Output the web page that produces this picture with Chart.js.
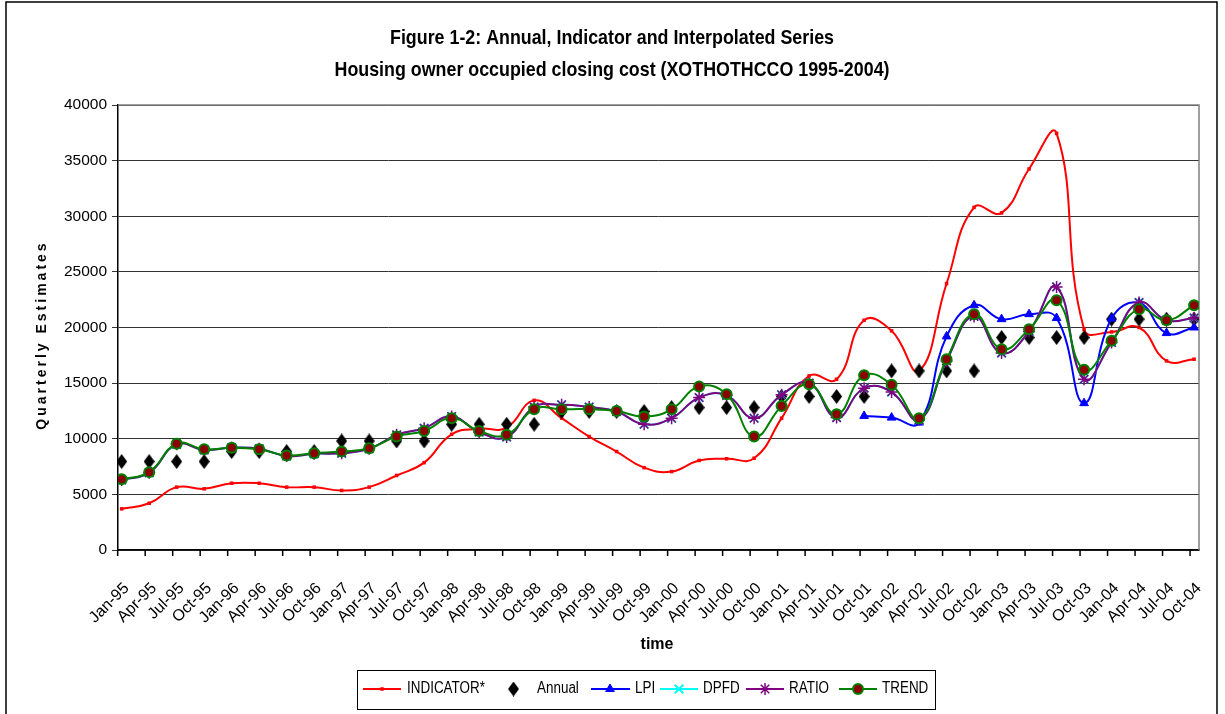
<!DOCTYPE html>
<html>
<head>
<meta charset="utf-8">
<script src="https://cdn.jsdelivr.net/npm/chart.js@4.4.0/dist/chart.umd.min.js"></script>
<style>
  html, body { margin: 0; padding: 0; background: #fff; }
  #wrap { position: relative; width: 1225px; height: 714px; }
</style>
</head>
<body>
<div id="wrap"><canvas id="grafico"></canvas></div>
<script>
const trimestres = [
  "Jan-95", "Apr-95", "Jul-95", "Oct-95", "Jan-96", "Apr-96", "Jul-96", "Oct-96",
  "Jan-97", "Apr-97", "Jul-97", "Oct-97", "Jan-98", "Apr-98", "Jul-98", "Oct-98",
  "Jan-99", "Apr-99", "Jul-99", "Oct-99", "Jan-00", "Apr-00", "Jul-00", "Oct-00",
  "Jan-01", "Apr-01", "Jul-01", "Oct-01", "Jan-02", "Apr-02", "Jul-02", "Oct-02",
  "Jan-03", "Apr-03", "Jul-03", "Oct-03", "Jan-04", "Apr-04", "Jul-04", "Oct-04",
];

const indicator = [
  3700, 4200, 5650, 5500, 6000, 6000, 5650, 5650,
  5350, 5650, 6700, 7850, 10400, 10900, 11000, 13450,
  11850, 10200, 8850, 7400, 7050, 8050, 8200, 8250,
  11850, 15650, 15350, 20650, 19700, 16100, 23950, 30800,
  30300, 34250, 37450, 19850, 19600, 20000, 17000, 17150,
];

const annual = [
  7950, 7950, 7950, 7950, 8850, 8850, 8850, 8850,
  9800, 9800, 9800, 9800, 11300, 11300, 11300, 11300,
  12450, 12450, 12450, 12450, 12800, 12800, 12800, 12800,
  13800, 13800, 13800, 13800, 16100, 16100, 16100, 16100,
  19100, 19100, 19100, 19100, 20750, 20750, 20750, 20750,
];

const lpi = [
  null, null, null, null, null, null, null, null,
  null, null, null, null, null, null, null, null,
  null, null, null, null, null, null, null, null,
  null, null, null, 12050, 11900, 11450, 19200, 22000,
  20750, 21200, 20850, 13200, 20800, 22200, 19500, 20000,
];

const dpfd = [
  6300, 6950, 9500, 9000, 9200, 9100, 8450, 8650,
  8700, 9100, 10350, 10950, 12000, 10600, 10150, 12850,
  13050, 12850, 12450, 11300, 11850, 13700, 13900, 11850,
  13950, 15000, 11900, 14550, 14200, 11700, 17000, 21000,
  17700, 19650, 23650, 15350, 18650, 22250, 20650, 20850,
];

const ratio = [
  6300, 6950, 9500, 9000, 9200, 9100, 8450, 8650,
  8700, 9100, 10350, 10950, 12000, 10600, 10150, 12850,
  13050, 12850, 12450, 11300, 11850, 13700, 13900, 11850,
  13950, 15000, 11900, 14550, 14200, 11700, 17000, 21000,
  17700, 19650, 23650, 15350, 18650, 22250, 20650, 20850,
];

const trend = [
  6350, 7000, 9550, 9050, 9200, 9050, 8500, 8700,
  8850, 9150, 10200, 10700, 11850, 10700, 10350, 12650,
  12650, 12650, 12500, 12000, 12650, 14700, 14000, 10200,
  12950, 14900, 12200, 15700, 14850, 11850, 17150, 21200,
  18050, 19850, 22450, 16200, 18800, 21650, 20650, 22000,
];

const fonte = '"Liberation Sans", Arial, sans-serif';

// losango preto (mais alto que largo) usado na serie anual
const losango = document.createElement("canvas");
losango.width = 11;
losango.height = 15;
{
  const c = losango.getContext("2d");
  c.fillStyle = "#000";
  c.beginPath();
  c.moveTo(5.5, 0);
  c.lineTo(11, 7.5);
  c.lineTo(5.5, 15);
  c.lineTo(0, 7.5);
  c.closePath();
  c.fill();
}

function texto(ctx, str, x, y, font, escalaX, align) {
  ctx.save();
  ctx.translate(x, y);
  ctx.scale(escalaX, 1);
  ctx.font = font;
  ctx.fillStyle = "#000";
  ctx.textAlign = align || "center";
  ctx.textBaseline = "middle";
  ctx.fillText(str, 0, 0);
  ctx.restore();
}

function marcador(ctx, estilo, raio, fundo, borda, largura, x, y) {
  ctx.save();
  ctx.fillStyle = fundo;
  ctx.strokeStyle = borda;
  ctx.lineWidth = largura;
  Chart.helpers.drawPoint(ctx, { pointStyle: estilo, radius: raio, rotation: 0, borderWidth: largura }, x, y);
  ctx.restore();
}

function linhaLegenda(ctx, cor, x1, x2, y) {
  ctx.save();
  ctx.strokeStyle = cor;
  ctx.lineWidth = 2;
  ctx.beginPath();
  ctx.moveTo(x1, y);
  ctx.lineTo(x2, y);
  ctx.stroke();
  ctx.restore();
}

const moldura = {
  id: "moldura",
  beforeDatasetsDraw(chart) {
    const { ctx, chartArea } = chart;
    ctx.save();
    ctx.strokeStyle = "#808080";
    ctx.lineWidth = 1.5;
    ctx.beginPath();
    ctx.moveTo(chartArea.left, chartArea.top);
    ctx.lineTo(chartArea.right, chartArea.top);
    ctx.lineTo(chartArea.right, chartArea.bottom);
    ctx.stroke();

    // marcas e rotulos do eixo x (um pouco a esquerda de cada ponto, como no original)
    const sx = chart.scales.x;
    ctx.strokeStyle = "#000";
    ctx.lineWidth = 1.5;
    ctx.font = "16px " + fonte;
    ctx.fillStyle = "#000";
    ctx.textAlign = "right";
    ctx.textBaseline = "alphabetic";
    trimestres.forEach((rot, i) => {
      const xt = sx.getPixelForValue(i) - 4;
      ctx.beginPath();
      ctx.moveTo(xt, chartArea.bottom);
      ctx.lineTo(xt, chartArea.bottom + 6);
      ctx.stroke();
      ctx.save();
      ctx.translate(xt + 12, chartArea.bottom + 39);
      ctx.rotate(-Math.PI / 4);
      ctx.fillText(rot, 0, 0);
      ctx.restore();
    });
    ctx.restore();
  },
  afterDraw(chart) {
    const ctx = chart.ctx;
    ctx.save();
    ctx.strokeStyle = "#000";
    ctx.lineWidth = 1.5;
    ctx.strokeRect(6, 2, 1211, 730);
    ctx.restore();

    texto(ctx, "Figure 1-2: Annual, Indicator and Interpolated Series", 612, 38, "bold 20.5px " + fonte, 0.87);
    texto(ctx, "Housing owner occupied closing cost (XOTHOTHCCO 1995-2004)", 612, 70, "bold 20.5px " + fonte, 0.87);

    // titulo do eixo y com espacamento entre letras
    ctx.save();
    ctx.translate(42, 335);
    ctx.rotate(-Math.PI / 2);
    ctx.font = "bold 14px " + fonte;
    ctx.letterSpacing = "3px";
    ctx.fillStyle = "#000";
    ctx.textAlign = "center";
    ctx.textBaseline = "middle";
    ctx.fillText("Quarterly Estimates", 0, 0);
    ctx.restore();

    texto(ctx, "time", 657, 645, "bold 16px " + fonte, 1);

    // legenda
    ctx.save();
    ctx.strokeStyle = "#000";
    ctx.lineWidth = 1;
    ctx.strokeRect(357.5, 670.5, 578, 39);
    ctx.restore();
    const yl = 689;
    const fl = "16px " + fonte;
    linhaLegenda(ctx, "#FF0000", 363, 401, yl);
    marcador(ctx, "rect", 2.5, "#FF0000", "#FF0000", 0, 382, yl);
    texto(ctx, "INDICATOR*", 407, yl, fl, 0.84, "left");
    ctx.drawImage(losango, 508, yl - 7.5);
    texto(ctx, "Annual", 537, yl, fl, 0.84, "left");
    linhaLegenda(ctx, "#0000FF", 591, 630, yl);
    marcador(ctx, "triangle", 5, "#0000FF", "#0000FF", 1, 610, yl);
    texto(ctx, "LPI", 635, yl, fl, 0.84, "left");
    linhaLegenda(ctx, "#00FFFF", 660, 698, yl);
    marcador(ctx, "crossRot", 6, "#00FFFF", "#00FFFF", 2, 679, yl);
    texto(ctx, "DPFD", 703, yl, fl, 0.84, "left");
    linhaLegenda(ctx, "#800080", 746, 784, yl);
    marcador(ctx, "star", 6, "#800080", "#800080", 1.5, 765, yl);
    texto(ctx, "RATIO", 789, yl, fl, 0.84, "left");
    linhaLegenda(ctx, "#008000", 839, 877, yl);
    marcador(ctx, "circle", 5, "#8B0000", "#008000", 2, 858, yl);
    texto(ctx, "TREND", 882, yl, fl, 0.84, "left");
  },
};

new Chart(document.getElementById("grafico"), {
  type: "line",
  data: {
    labels: trimestres.map((_, i) => i),
    datasets: [
      {
        label: "INDICATOR*",
        data: indicator,
        borderColor: "#FF0000",
        backgroundColor: "#FF0000",
        borderWidth: 2,
        pointStyle: "rect",
        pointRadius: 2.5,
        pointBorderWidth: 0,
        tension: 0.45,
        order: 6,
      },
      {
        label: "Annual",
        data: annual,
        showLine: false,
        pointStyle: losango,
        order: 5,
      },
      {
        label: "LPI",
        data: lpi,
        borderColor: "#0000FF",
        backgroundColor: "#0000FF",
        borderWidth: 2,
        pointStyle: "triangle",
        pointRadius: 5,
        pointBorderWidth: 1,
        tension: 0.45,
        order: 4,
      },
      {
        label: "DPFD",
        data: dpfd,
        borderColor: "#00FFFF",
        backgroundColor: "#00FFFF",
        borderWidth: 2,
        pointStyle: "crossRot",
        pointRadius: 6,
        pointBorderWidth: 2,
        tension: 0.45,
        order: 3,
      },
      {
        label: "RATIO",
        data: ratio,
        borderColor: "#800080",
        backgroundColor: "#800080",
        borderWidth: 2,
        pointStyle: "star",
        pointRadius: 6,
        pointBorderWidth: 1.5,
        tension: 0.45,
        order: 2,
      },
      {
        label: "TREND",
        data: trend,
        borderColor: "#008000",
        backgroundColor: "#8B0000",
        pointBackgroundColor: "#8B0000",
        pointBorderColor: "#008000",
        borderWidth: 2,
        pointStyle: "circle",
        pointRadius: 5,
        pointBorderWidth: 2,
        tension: 0.45,
        order: 1,
      },
    ],
  },
  options: {
    responsive: true,
    maintainAspectRatio: false,
    animation: false,
    layout: { padding: { top: 105, right: 26, bottom: 0, left: 0 } },
    plugins: {
      legend: { display: false },
      title: { display: false },
      tooltip: { enabled: false },
    },
    scales: {
      x: {
        type: "linear",
        min: -0.134,
        max: 39.18,
        afterFit(s) { s.height = 164; },
        grid: { display: false },
        border: { display: true, color: "#000", width: 1.5 },
        ticks: { display: false },
      },
      y: {
        min: 0,
        max: 40000,
        afterFit(s) { s.width = 118; },
        grid: { color: "#333", tickLength: 6, lineWidth: 1 },
        border: { color: "#000", width: 1.5 },
        ticks: {
          stepSize: 5000,
          padding: 5,
          color: "#000",
          font: { size: 15.5, family: fonte },
          callback: (v) => String(v),
        },
      },
    },
  },
  plugins: [moldura],
});
</script>
</body>
</html>
